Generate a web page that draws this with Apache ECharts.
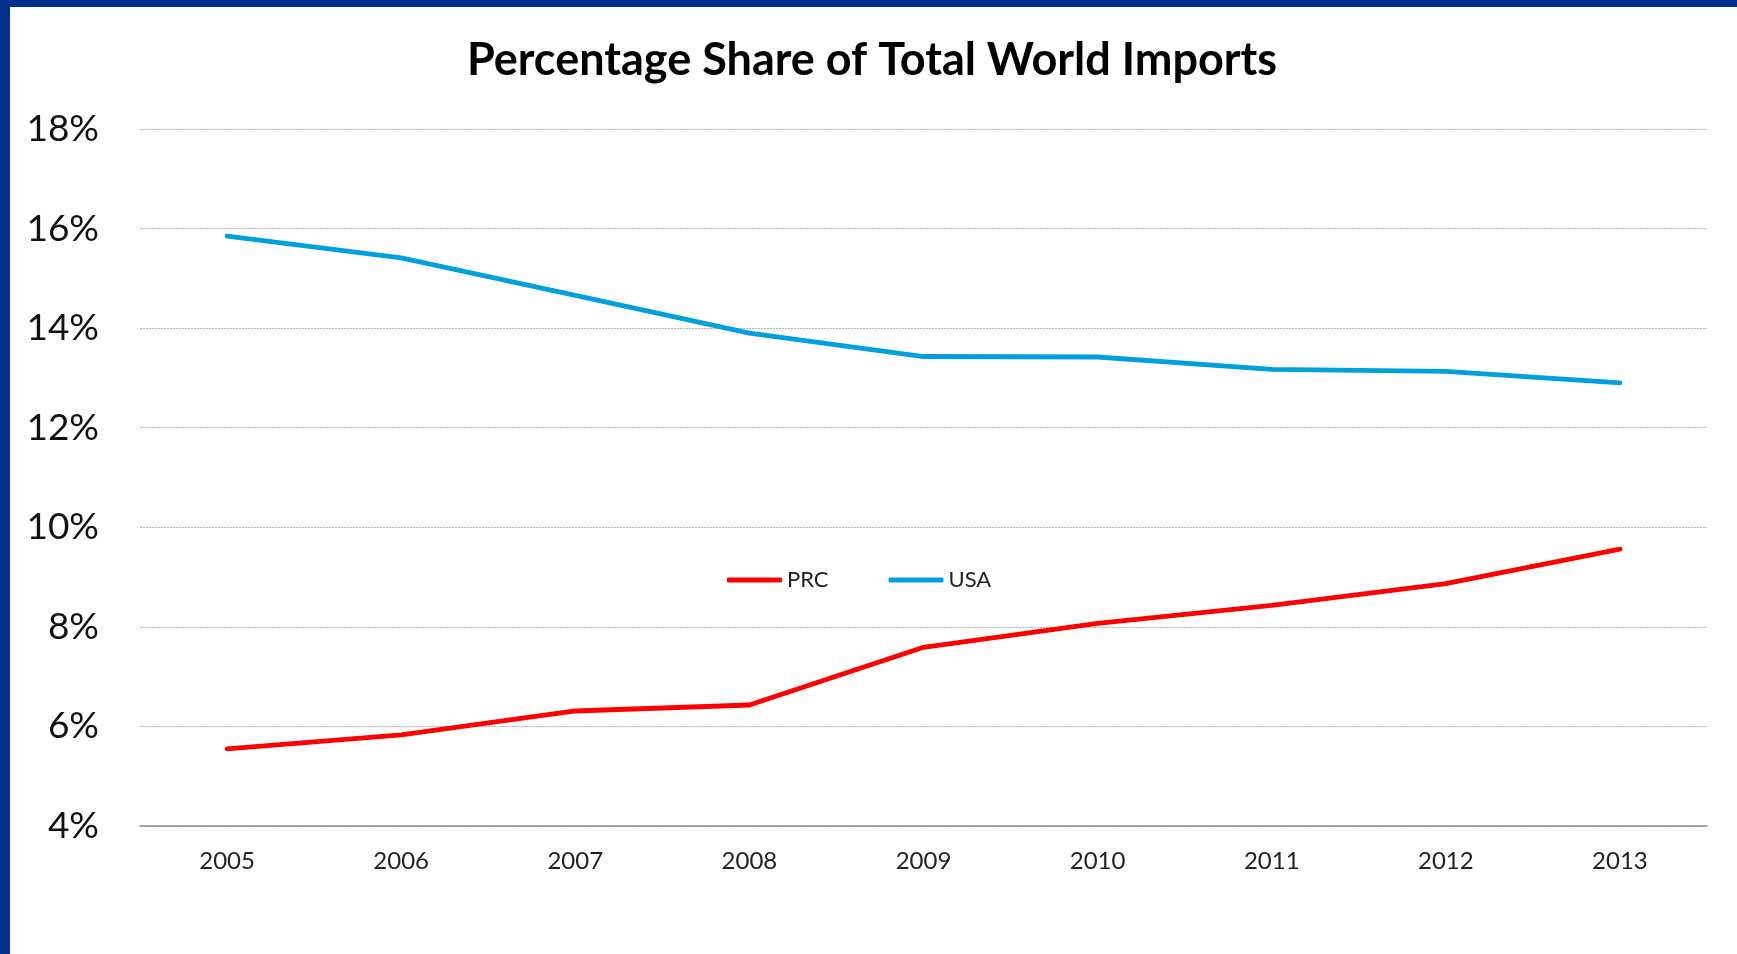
<!DOCTYPE html>
<html>
<head>
<meta charset="utf-8">
<script src="https://cdn.jsdelivr.net/npm/echarts@6/dist/echarts.min.js"></script>
<style>
html,body{margin:0;padding:0;background:#fff;}
#chart{width:1737px;height:954px;}
</style>
</head>
<body>
<div id="chart"></div>
<script>
const titleText = 'Percentage Share of Total World Imports';
const years = ['2005','2006','2007','2008','2009','2010','2011','2012','2013'];
const prc = [5.55, 5.83, 6.31, 6.43, 7.59, 8.07, 8.43, 8.87, 9.56];
const usa = [15.85, 15.41, 14.66, 13.90, 13.43, 13.42, 13.17, 13.13, 12.90];
const seriesNames = ['PRC', 'USA'];
const yMin = 4, yMax = 18, yStep = 2;

const FONT = 'Lato';
const chart = echarts.init(document.getElementById('chart'));
chart.setOption({
  animation: false,
  backgroundColor: '#ffffff',
  title: {
    text: titleText,
    left: 867,
    textAlign: 'center',
    top: 33,
    textStyle: {fontFamily: FONT, fontWeight: 'bold', fontSize: 45, color: '#000'}
  },
  legend: {
    data: seriesNames.map(n => ({name: n, icon: 'roundRect'})),
    left: 722,
    top: 564,
    itemWidth: 55,
    itemHeight: 5,
    itemGap: 60,
    textStyle: {fontFamily: FONT, fontSize: 22, color: '#222'}
  },
  grid: {left: 140, right: 30, top: 129, bottom: 128, containLabel: false},
  xAxis: {
    type: 'category',
    data: years,
    boundaryGap: true,
    axisLine: {show: true, lineStyle: {color: '#8c8c8c', width: 1.5}},
    axisTick: {show: false},
    axisLabel: {fontFamily: FONT, fontSize: 24, color: '#222', margin: 23}
  },
  yAxis: {
    type: 'value',
    min: yMin, max: yMax, interval: yStep,
    axisLine: {show: false},
    axisTick: {show: false},
    axisLabel: {fontFamily: FONT, fontSize: 37, color: '#111', margin: 41, formatter: '{value}%'},
    splitLine: {show: true, lineStyle: {color: '#b4b4b4', width: 1, type: [2, 1]}}
  },
  series: [
    {name: seriesNames[0], type: 'line', data: prc, symbol: 'none', color: '#FF0000',
     lineStyle: {color: '#FF0000', width: 4.8, cap: 'round', join: 'round'}},
    {name: seriesNames[1], type: 'line', data: usa, symbol: 'none', color: '#00A0DC',
     lineStyle: {color: '#00A0DC', width: 4.8, cap: 'round', join: 'round'}}
  ],
  graphic: [
    {type: 'rect', shape: {x: 0, y: 0, width: 1737, height: 7}, style: {fill: '#00308A'}, z: 100},
    {type: 'rect', shape: {x: 0, y: 0, width: 10, height: 954}, style: {fill: '#00308A'}, z: 100}
  ]
});
</script>
</body>
</html>
